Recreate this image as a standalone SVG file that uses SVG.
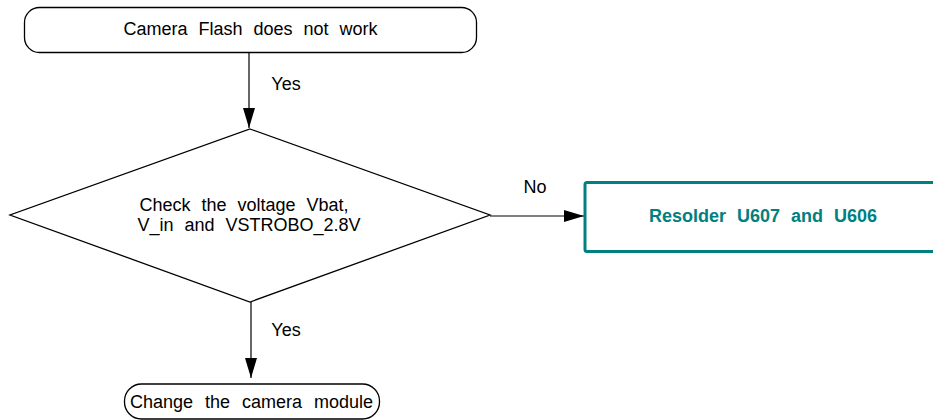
<svg xmlns="http://www.w3.org/2000/svg" width="933" height="420" viewBox="0 0 933 420">
<defs>
<style>
.t{font-family:"Liberation Sans",Arial,sans-serif;font-size:18px;fill:#000;text-anchor:middle;word-spacing:6px}
.sh{fill:#fff;stroke:#000;stroke-width:1.3}
.c{stroke:#000;stroke-width:1.2;fill:none}
.teal{fill:#fff;stroke:#008080;stroke-width:3}
.tb{font-family:"Liberation Sans",Arial,sans-serif;font-size:18px;font-weight:bold;fill:#008080;text-anchor:middle;word-spacing:6px}
</style>
<marker id="ah" viewBox="0 0 20 12" refX="20" refY="6" markerWidth="20" markerHeight="12" markerUnits="userSpaceOnUse" orient="auto">
<path d="M0,0 L20,6 L0,12 Z" fill="#000"/>
</marker>
</defs>
<rect width="933" height="420" fill="#fff"/>
<g id="connectors">
<line class="c" x1="249" y1="52" x2="249" y2="128" marker-end="url(#ah)"/>
<line class="c" x1="251" y1="302" x2="251" y2="378" marker-end="url(#ah)"/>
<line class="c" x1="490" y1="216" x2="584" y2="216" marker-end="url(#ah)"/>
<text class="t" x="286" y="90">Yes</text>
<text class="t" x="286" y="336">Yes</text>
<text class="t" x="535" y="193">No</text>
</g>
<g id="start">
<rect class="sh" x="24.5" y="7.5" width="452" height="45" rx="15" ry="15"/>
<text class="t" x="250.5" y="35">Camera Flash does not work</text>
</g>
<g id="check">
<polygon class="sh" points="250,129 490,215 250,302 10,215"/>
<text class="t" x="244" y="210.5">Check the voltage Vbat,</text>
<text class="t" x="249" y="230.5">V_in and VSTROBO_2.8V</text>
</g>
<g id="resolder">
<rect class="teal" x="585" y="182.5" width="380" height="69" rx="2"/>
<text class="tb" x="763" y="222">Resolder U607 and U606</text>
</g>
<g id="change">
<rect class="sh" x="124.5" y="384" width="255" height="35" rx="17" ry="17"/>
<text class="t" x="251.5" y="408" style="word-spacing:7px">Change the camera module</text>
</g>
</svg>
